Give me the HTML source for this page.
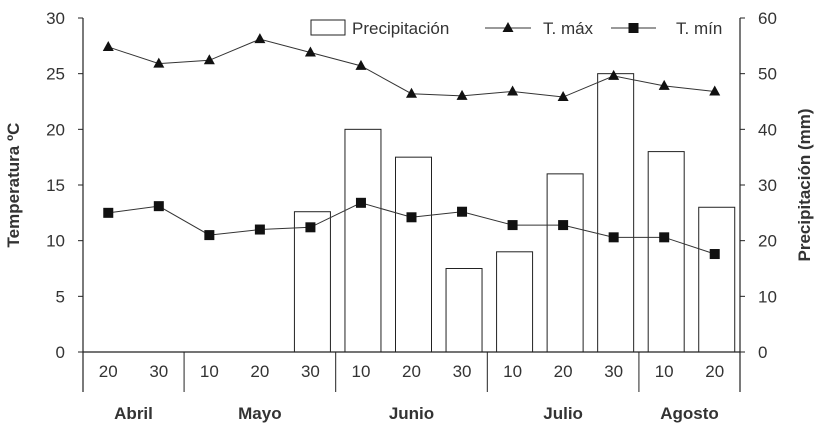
<!DOCTYPE html>
<html><head><meta charset="utf-8"><style>
body{margin:0;background:#fff}
svg text{font-family:"Liberation Sans",Arial,sans-serif;fill:#333}
</style></head><body>
<svg id="c" width="823" height="430"></svg>
<script>
const cats=["20","30","10","20","30","10","20","30","10","20","30","10","20"];
const months=["Abril","Mayo","Junio","Julio","Agosto"];
const monthSpans=[2,3,3,3,2];
const tmax=[27.4,25.9,26.2,28.1,26.9,25.7,23.2,23.0,23.4,22.9,24.8,23.9,23.4];
const tmin=[12.5,13.1,10.5,11.0,11.2,13.4,12.1,12.6,11.4,11.4,10.3,10.3,8.8];
const precip=[0,0,0,0,25.2,40,35,15,18,32,50,36,26];
const leftTicks=[0,5,10,15,20,25,30];
const rightTicks=[0,10,20,30,40,50,60];
const NS="http://www.w3.org/2000/svg";
const svg=document.getElementById('c');
const L=83,R=740,T=18,B=352;
const bw=(R-L)/cats.length;
const xc=i=>L+bw*(i+0.5);
const yL=v=>B-(v/30)*(B-T);
const yR=v=>B-(v/60)*(B-T);
function el(tag,a,parent){const e=document.createElementNS(NS,tag);for(const k in a)e.setAttribute(k,a[k]);(parent||svg).appendChild(e);return e;}
precip.forEach((v,i)=>{if(v<=0)return;
const r=el('rect',{x:xc(i)-16,y:yR(v),width:36,height:B-yR(v),fill:'#fff',stroke:'#222','stroke-width':1});

});
const ax=el('path',{d:`M${L},${T}V392M${R},${T}V392M${L},${B}H${R}`,stroke:'#222',fill:'none','stroke-width':1.2});


leftTicks.forEach(v=>{el('line',{x1:L-5,x2:L,y1:yL(v),y2:yL(v),stroke:'#222'});
const t=el('text',{x:L-18,y:yL(v)+6,'text-anchor':'end','font-size':17});t.textContent=v;

});
rightTicks.forEach(v=>{el('line',{x1:R,x2:R+5,y1:yR(v),y2:yR(v),stroke:'#222'});
const t=el('text',{x:R+18,y:yR(v)+6,'font-size':17});t.textContent=v;

});
cats.forEach((c,i)=>{const t=el('text',{x:xc(i),y:377,'text-anchor':'middle','font-size':17});t.textContent=c;

});
let idx=0;
months.forEach((m,k)=>{const s=idx;idx+=monthSpans[k];
if(k>0)el('line',{x1:L+bw*s,x2:L+bw*s,y1:B,y2:392,stroke:'#222'});
const t=el('text',{x:(L+bw*s+L+bw*idx)/2,y:419,'text-anchor':'middle','font-size':17,'font-weight':'bold'});t.textContent=m;

});
function series(data,marker,name){
const p=el('polyline',{points:data.map((v,i)=>xc(i)+','+yL(v)).join(' '),fill:'none',stroke:'#333','stroke-width':1});


data.forEach((v,i)=>{const x=xc(i),y=yL(v);let m;
if(marker==='tri')m=el('path',{d:`M${x},${y-6}L${x+5.5},${y+4}L${x-5.5},${y+4}Z`,fill:'#111'});
else m=el('rect',{x:x-5,y:y-5,width:10,height:10,fill:'#111'});

});}
series(tmax,'tri','tmax');series(tmin,'sq','tmin');
const lg=el('g',{});


el('rect',{x:311,y:20,width:34,height:15,fill:'#fff',stroke:'#222'},lg);
let t=el('text',{x:352,y:34,'font-size':17},lg);t.textContent='Precipitación';
el('line',{x1:485,x2:531,y1:28,y2:28,stroke:'#333'},lg);
el('path',{d:'M508,22L513.5,32L502.5,32Z',fill:'#111'},lg);
t=el('text',{x:543,y:34,'font-size':17},lg);t.textContent='T. máx';
el('line',{x1:611,x2:656,y1:28,y2:28,stroke:'#333'},lg);
el('rect',{x:628.5,y:23,width:10,height:10,fill:'#111'},lg);
t=el('text',{x:676,y:34,'font-size':17},lg);t.textContent='T. mín';
t=el('text',{x:0,y:0,'font-size':17,'font-weight':'bold','text-anchor':'middle',transform:`translate(19,${(T+B)/2}) rotate(-90)`});t.textContent='Temperatura ºC';


t=el('text',{x:0,y:0,'font-size':17,'font-weight':'bold','text-anchor':'middle',transform:`translate(810,${(T+B)/2}) rotate(-90)`});t.textContent='Precipitación (mm)';


</script>
</body></html>
